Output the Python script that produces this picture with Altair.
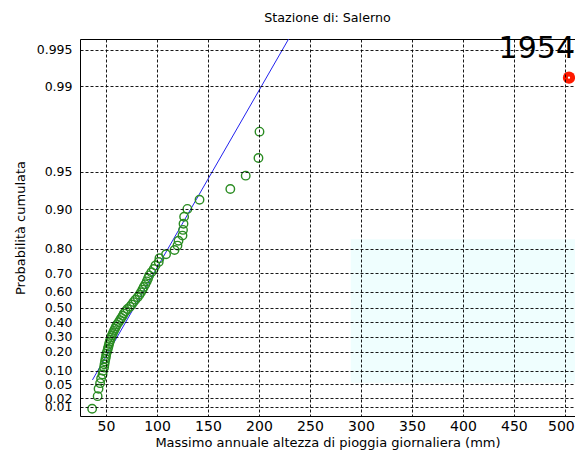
import math
import altair as alt
import pandas as pd

# ---- data ----
rain_mm = [36.4, 41.8, 42.7, 44.2, 45.2, 46.6, 47.1, 48.1, 48.5, 49.0,
           49.5, 50.0, 50.4, 51.2, 51.8, 52.4, 53.0, 53.6, 54.3, 55.0,
           55.8, 56.8, 57.8, 58.8, 59.8, 60.8, 62.4, 63.8, 65.0, 66.4,
           67.5, 69.2, 71.0, 73.5, 75.3, 77.0, 78.8, 81.0, 82.8, 84.3,
           85.8, 87.0, 88.6, 90.0, 91.2, 92.3, 94.5, 96.8, 98.5, 101.7,
           102.4, 108.9, 117.2, 120.1, 121.1, 125.0, 125.5, 126.0, 126.6, 129.8,
           141.7, 171.9, 187.0, 199.5, 200.5, 504.0]
outlier_year = "1954"
prob_ticks = [0.01, 0.02, 0.05, 0.10, 0.20, 0.30, 0.40, 0.50, 0.60, 0.70,
              0.80, 0.90, 0.95, 0.99, 0.995]
x_ticks = [50, 100, 150, 200, 250, 300, 350, 400, 450, 500]
fit_mm = [36.7, 240.0]
fit_prob = [0.064, 0.9972]
box_mm = [290.0, 530.0]
box_prob = [0.055, 0.83]

X_DOMAIN = [24.5, 509.9]
Y_DOMAIN = [-1.70, 5.506]
W, H = 495, 377
FONT = "DejaVu Sans"

y_tick_vals = [-math.log(-math.log(p)) for p in prob_ticks]

xscale = alt.Scale(domain=X_DOMAIN, nice=False, zero=False)
yscale = alt.Scale(domain=Y_DOMAIN, nice=False, zero=False)

label_expr = ("exp(-exp(-datum.value)) > 0.992 ? format(exp(-exp(-datum.value)), '.3f') "
              ": format(exp(-exp(-datum.value)), '.2f')")

x_axis = alt.Axis(values=x_ticks, tickCount=50, grid=True, gridDash=[3, 2],
                  gridColor="#000000", gridWidth=1, gridOpacity=0.9, ticks=False,
                  domainColor="#000000", domainWidth=1, labelFont=FONT, labelFontSize=14,
                  labelColor="#000000", labelPadding=3, labelOverlap=False, labelFlush=False,
                  labelBound=False,
                  labelOffset={"condition": {"test": "datum.value >= 500", "value": -4},
                               "value": 0},
                  title="Massimo annuale altezza di pioggia giornaliera (mm)",
                  titleFont=FONT, titleFontSize=13, titleFontWeight="normal",
                  titleColor="#000000", titleY=26, titleBaseline="middle", zindex=1)
y_axis = alt.Axis(values=y_tick_vals, tickCount=50, labelExpr=label_expr, grid=True,
                  gridDash=[3, 2], gridColor="#000000", gridWidth=1, gridOpacity=0.9,
                  ticks=False, domainColor="#000000", domainWidth=1, labelFont=FONT,
                  labelFontSize=12.5, labelColor="#000000", labelPadding=8,
                  labelOverlap=False, labelFlush=False, labelBound=False,
                  title="Probabilità cumulata", titleFont=FONT, titleFontSize=13,
                  titleFontWeight="normal", titleColor="#000000", titleX=-60,
                  titleY=H / 2, titleAngle=270, titleAlign="center",
                  titleBaseline="middle", zindex=1)
top_axis = alt.Axis(orient="top", labels=False, ticks=False, grid=False, title=None,
                    domain=True, domainColor="#000000", domainWidth=1)

pts = pd.DataFrame({"rain": rain_mm})
base = (alt.Chart(pts)
        .transform_joinaggregate(n="count()", mx="max(rain)")
        .transform_window(rank="row_number()", sort=[alt.SortField("rain", order="ascending")])
        .transform_calculate(p="(datum.rank - 0.44) / (datum.n + 0.12)")
        .transform_calculate(g="-log(-log(datum.p))"))

box = (alt.Chart(pd.DataFrame({"rain": [box_mm[0]], "rain2": [box_mm[1]],
                               "p": [box_prob[0]], "p2": [box_prob[1]]}))
       .transform_calculate(g="-log(-log(datum.p))", g2="-log(-log(datum.p2))")
       .mark_rect(color="#effefe", clip=True)
       .encode(x=alt.X("rain:Q", scale=xscale, axis=top_axis), x2="rain2:Q",
               y=alt.Y("g:Q", scale=yscale, axis=y_axis), y2="g2:Q"))

fit = (alt.Chart(pd.DataFrame({"rain": fit_mm, "p": fit_prob}))
       .transform_calculate(g="-log(-log(datum.p))")
       .mark_line(color="#2222ee", strokeWidth=1, clip=True)
       .encode(x=alt.X("rain:Q", scale=xscale, axis=None),
               y=alt.Y("g:Q", scale=yscale)))

green = (base.transform_filter("datum.rain < datum.mx")
         .mark_point(shape="circle", filled=False, size=72, strokeWidth=1.4,
                     color="#2a8c22", opacity=1, clip=True)
         .encode(x=alt.X("rain:Q", scale=xscale, axis=x_axis),
                 y=alt.Y("g:Q", scale=yscale)))

red = (base.transform_filter("datum.rain == datum.mx")
       .mark_circle(size=150, color="#ff1a00", opacity=1)
       .encode(x=alt.X("rain:Q", scale=xscale, axis=None),
               y=alt.Y("g:Q", scale=yscale)))

dot = (base.transform_filter("datum.rain == datum.mx")
       .mark_circle(size=5, color="#ffffff", opacity=1)
       .encode(x=alt.X("rain:Q", scale=xscale, axis=None),
               y=alt.Y("g:Q", scale=yscale)))

label = (base.transform_filter("datum.rain == datum.mx")
         .transform_calculate(year=f"'{outlier_year}'")
         .mark_text(align="right", baseline="alphabetic", dx=6, dy=-20, fontSize=30,
                    font=FONT, color="#000000")
         .encode(x=alt.X("rain:Q", scale=xscale, axis=None),
                 y=alt.Y("g:Q", scale=yscale), text="year:N"))

chart = (alt.layer(box, fit, green, red, dot, label)
         .resolve_axis(x="independent")
         .properties(width=W, height=H,
                     title=alt.Title("Stazione di: Salerno", font=FONT, fontSize=12.7,
                                     fontWeight="normal", color="#000000", anchor="middle",
                                     frame="group", offset=3, baseline="middle"),
                     autosize=alt.AutoSizeParams(type="none"),
                     padding={"left": 72, "top": 31, "right": 0, "bottom": 36})
         .configure_view(stroke=None)
         .configure(background="#ffffff"))

chart.save("out.html", embed_options={"renderer": "svg", "actions": False})
